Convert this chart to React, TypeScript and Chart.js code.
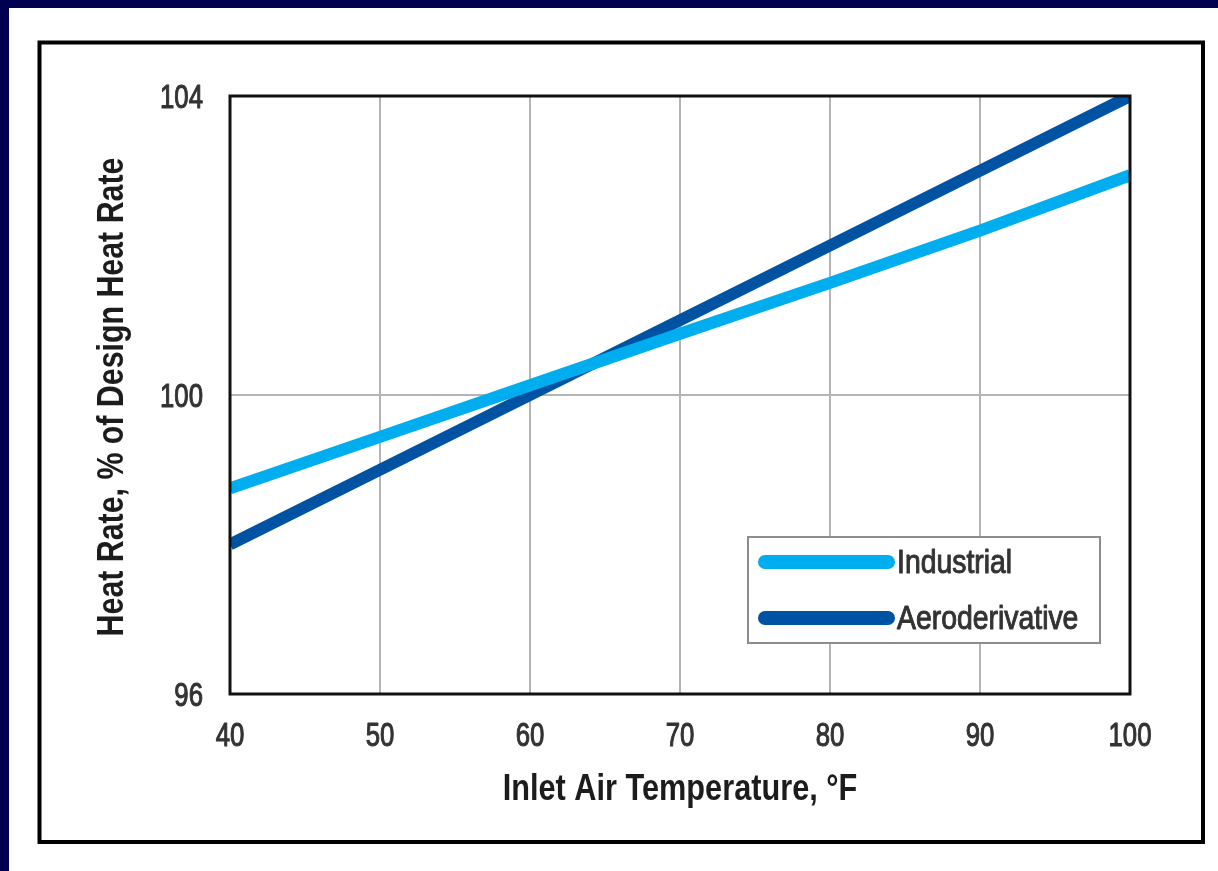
import React, { useEffect, useRef } from "react";
import { Chart, registerables } from "chart.js";

Chart.register(...registerables);

const temperatures = [40, 50, 60, 70, 80, 90, 100];
const industrial = [98.75, 99.44, 100.13, 100.82, 101.5, 102.2, 102.94];
const aeroderivative = [98.0, 99.0, 100.0, 101.0, 102.0, 103.0, 104.0];
const seriesLabels = ["Industrial", "Aeroderivative"];
const xTitle = "Inlet Air Temperature, °F";
const yTitle = "Heat Rate, % of Design Heat Rate";

const FONT = "'Liberation Sans', Arial, sans-serif";

function drawText(
  ctx: CanvasRenderingContext2D,
  text: string,
  x: number,
  y: number,
  font: string,
  color: string,
  sx: number,
  align: CanvasTextAlign,
  rotate = false,
  weightStroke = 0
) {
  ctx.save();
  ctx.translate(x, y);
  if (rotate) ctx.rotate(-Math.PI / 2);
  ctx.scale(sx, 1);
  ctx.font = font;
  ctx.fillStyle = color;
  ctx.textAlign = align;
  ctx.textBaseline = "alphabetic";
  ctx.fillText(text, 0, 0);
  if (weightStroke > 0) {
    ctx.strokeStyle = color;
    ctx.lineWidth = weightStroke;
    ctx.lineJoin = "round";
    ctx.strokeText(text, 0, 0);
  }
  ctx.restore();
}

const framePlugin = {
  id: "frame",
  beforeDraw(chart: any) {
    const { ctx, width, height } = chart;
    ctx.save();
    ctx.fillStyle = "#ffffff";
    ctx.fillRect(0, 0, width, height);
    ctx.restore();
  },
  afterDraw(chart: any) {
    const { ctx, chartArea, scales } = chart;
    ctx.save();
    // outer frame
    ctx.strokeStyle = "#000000";
    ctx.lineWidth = 4;
    ctx.strokeRect(30.5, 34.5, 1163.5, 799.5);
    // plot box
    ctx.lineWidth = 3;
    ctx.strokeStyle = "#111111";
    ctx.strokeRect(chartArea.left, chartArea.top, chartArea.right - chartArea.left, chartArea.bottom - chartArea.top);

    // tick labels (from the library's scales)
    const tickFont = `33px ${FONT}`;
    scales.x.ticks.forEach((t: any) => {
      const px = scales.x.getPixelForValue(t.value);
      drawText(ctx, String(t.label), px, chartArea.bottom + 52, tickFont, "#333333", 0.78, "center", false, 1.1);
    });
    scales.y.ticks.forEach((t: any) => {
      const py = scales.y.getPixelForValue(t.value);
      drawText(ctx, String(t.label), chartArea.left - 27, py + 12, tickFont, "#333333", 0.78, "right", false, 1.1);
    });

    // axis titles
    const titleFont = `bold 37px ${FONT}`;
    drawText(ctx, xTitle, (chartArea.left + chartArea.right) / 2, chartArea.bottom + 106, titleFont, "#1c1c1c", 0.83, "center");
    drawText(ctx, yTitle, chartArea.left - 107, (chartArea.top + chartArea.bottom) / 2 + 2, titleFont, "#1c1c1c", 0.82, "center", true);

    // legend
    const bx = 739, by = 529, bw = 352, bh = 106;
    ctx.fillStyle = "#ffffff";
    ctx.fillRect(bx, by, bw, bh);
    ctx.strokeStyle = "#8c8c8c";
    ctx.lineWidth = 2;
    ctx.strokeRect(bx, by, bw, bh);
    chart.data.datasets.forEach((ds: any, i: number) => {
      const y = by + 25 + i * 56;
      ctx.save();
      ctx.strokeStyle = ds.borderColor;
      ctx.lineWidth = 14;
      ctx.lineCap = "round";
      ctx.beginPath();
      ctx.moveTo(bx + 17, y);
      ctx.lineTo(bx + 140, y);
      ctx.stroke();
      ctx.restore();
      drawText(ctx, ds.label, bx + 149, y + 11, `33px ${FONT}`, "#333333", 0.86, "left", false, 1.0);
    });
    ctx.restore();
  },
};

export default function App() {
  const ref = useRef<HTMLCanvasElement | null>(null);

  useEffect(() => {
    if (!ref.current) return;
    const chart = new Chart(ref.current, {
      type: "line",
      data: {
        datasets: [
          {
            label: seriesLabels[0],
            data: temperatures.map((t, i) => ({ x: t, y: industrial[i] })),
            borderColor: "#00aeef",
            backgroundColor: "#00aeef",
            borderWidth: 12,
            pointRadius: 0,
            tension: 0,
          },
          {
            label: seriesLabels[1],
            data: temperatures.map((t, i) => ({ x: t, y: aeroderivative[i] })),
            borderColor: "#0052a3",
            backgroundColor: "#0052a3",
            borderWidth: 12,
            pointRadius: 0,
            tension: 0,
          },
        ],
      },
      options: {
        animation: false,
        responsive: false,
        devicePixelRatio: 1,
        layout: { padding: { left: 79, right: 88, top: 88, bottom: 62 } },
        plugins: {
          legend: { display: false },
          tooltip: { enabled: false },
        },
        scales: {
          x: {
            type: "linear",
            min: 40,
            max: 100,
            ticks: { stepSize: 10, display: false },
            grid: { color: "#b4b4b4", lineWidth: 2, drawTicks: false },
            border: { display: false },
            title: { display: false, text: xTitle },
            afterFit(scale: any) {
              scale.height = 115;
            },
          },
          y: {
            min: 96,
            max: 104,
            ticks: { stepSize: 4, display: false },
            grid: { color: "#b4b4b4", lineWidth: 2, drawTicks: false },
            border: { display: false },
            title: { display: false, text: yTitle },
            afterFit(scale: any) {
              scale.width = 142;
            },
          },
        },
      },
      plugins: [framePlugin],
    });
    return () => chart.destroy();
  }, []);

  return (
    <div style={{ position: "fixed", left: 0, top: 0, width: 1218, height: 871, background: "#000050" }}>
      <canvas
        ref={ref}
        width={1209}
        height={863}
        style={{ position: "absolute", left: 9, top: 8, width: 1209, height: 863, display: "block" }}
      />
    </div>
  );
}
